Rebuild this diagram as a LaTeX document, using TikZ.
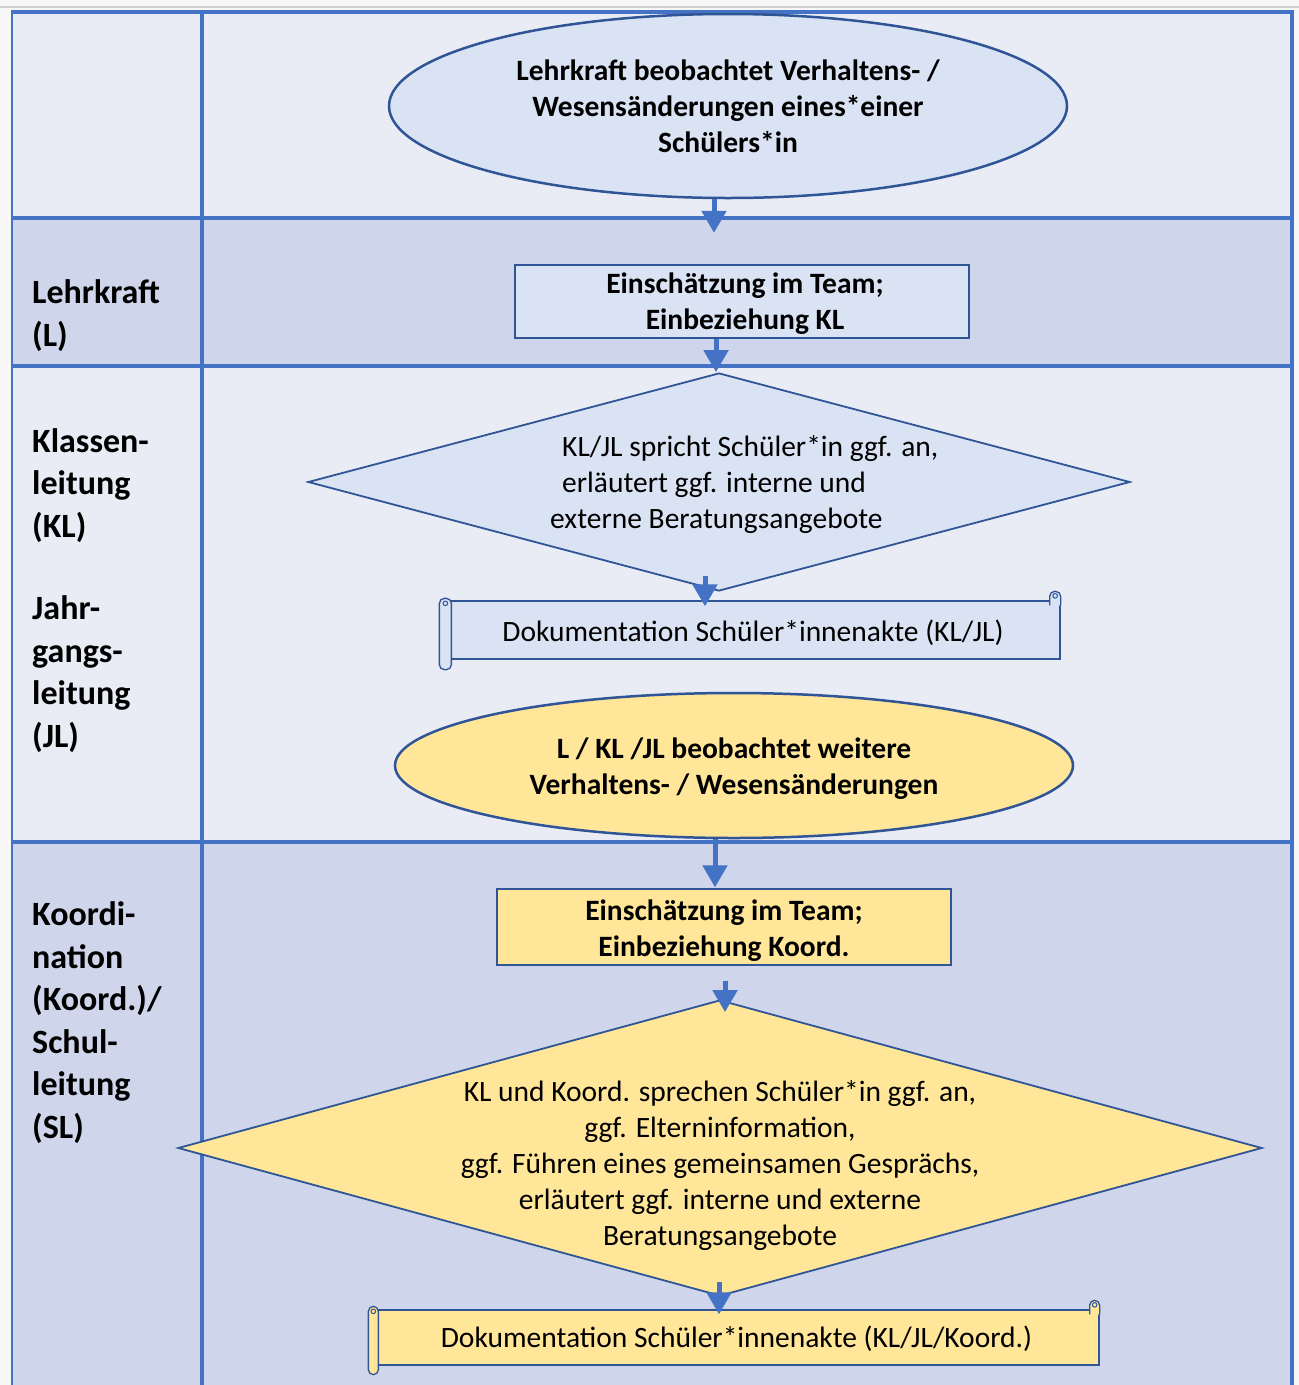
\documentclass[tikz,border=0pt]{standalone}
\usepackage{fontspec}
\setmainfont{Carlito}
\usetikzlibrary{shapes.geometric,arrows.meta,calc}

\definecolor{pagebg}{HTML}{F7F7F7}
\definecolor{rowlight}{HTML}{E9ECF5}
\definecolor{rowdark}{HTML}{CFD5EA}
\definecolor{gridblue}{HTML}{4472C4}
\definecolor{edgeblue}{HTML}{2F5597}
\definecolor{fillblue}{HTML}{DAE3F3}
\definecolor{fillyellow}{HTML}{FFE699}

\tikzset{
  gridline/.style={draw=gridblue, line width=3.5pt},
  maintext/.style={font=\fontsize{29.5}{36}\selectfont, inner sep=0},
  boldtext/.style={font=\fontsize{29.5}{36}\selectfont\bfseries, inner sep=0, align=center},
  lanetext/.style={font=\fontsize{34}{42.5}\selectfont\bfseries, align=left, inner sep=0, anchor=base west},
  oval/.style={ellipse, draw=edgeblue, line width=2.5pt, inner sep=0, align=center, boldtext},
  taskbox/.style={rectangle, draw=edgeblue, line width=1.3pt, inner sep=0},
  decision/.style={diamond, draw=edgeblue, line width=1.8pt, inner sep=0},
  docbody/.style={rectangle, draw=edgeblue, line width=1.3pt, inner sep=0},
  scrollpart/.style={draw=edgeblue, line width=1.3pt},
  flow/.style={draw=gridblue, line width=5pt, -{Triangle[width=24pt,length=22pt]}},
}

\begin{document}
\begin{tikzpicture}[x=1pt,y=-1pt]
\useasboundingbox (0,0) rectangle (1299,1385);
\fill[pagebg] (0,0) rectangle (1299,1385);
\draw[black!18, line width=1.5pt] (0,7) -- (1299,7);

% swimlane rows
\fill[rowlight] (12,12) rectangle (1292,218);
\fill[rowdark]  (12,218) rectangle (1292,366);
\fill[rowlight] (12,366) rectangle (1292,842);
\fill[rowdark]  (12,842) rectangle (1292,1385);

% table grid
\draw[draw=gridblue, line width=2pt] (12,1385) -- (12,12);
\draw[gridline] (11,12) -- (1292,12) -- (1292,1385);
\draw[gridline] (202,12) -- (202,1385);
\foreach \yy in {218,366,842} \draw[gridline] (12,\yy) -- (1292,\yy);

% lane labels (anchored at the baseline of their last line)
\node[lanetext] (laneL) at (32,346) {Lehrkraft\\(L)};
\node[lanetext] (laneKL) at (32,747) {Klassen-\\leitung\\(KL)\\[40pt]Jahr-\\gangs-\\leitung\\(JL)};
\node[lanetext] (laneSL) at (32,1138) {Koordi-\\nation\\(Koord.)/\\Schul-\\leitung\\(SL)};

% first observation
\node[oval, fill=fillblue, minimum width=678, minimum height=184] (obs1) at (728,106)
  {Lehrkraft beobachtet Verhaltens- /\\Wesensänderungen eines*einer\\Schülers*in};

\node[taskbox, fill=fillblue, minimum width=454, minimum height=73] (team1) at (742,301.5) {};
\node[boldtext] (team1txt) at (745,304)
  {Einschätzung im Team;\\Einbeziehung KL};

\node[decision, fill=fillblue, minimum width=822, minimum height=218] (talk1) at (719,482) {};
\node[maintext, anchor=west, align=left] (talk1txt) at (562,484.5)
  {KL/JL spricht Schüler*in ggf. an,\\erläutert ggf. interne und\\\hspace*{-12pt}externe Beratungsangebote};

% documentation scroll (class / year lead)
\node[docbody, fill=fillblue, minimum width=614, minimum height=58] (doc1) at (753,630) {};
\filldraw[scrollpart, fill=fillblue, rounded corners=5pt]
  ($(doc1.north east)+(-11,5)$) -- ($(doc1.north east)+(-11,-9)$) -- ($(doc1.north east)+(0,-9)$) -- ($(doc1.north east)+(0,5)$);
\draw[scrollpart, line width=1pt] ($(doc1.north east)+(-5.5,-4.5)$) circle (2.3);
\filldraw[scrollpart, fill=fillblue, rounded corners=5pt]
  ($(doc1.north west)+(-6,-2)$) rectangle ($(doc1.south west)+(6,10)$);
\draw[scrollpart, line width=1pt] ($(doc1.north west)+(0,3)$) circle (2.3);
\node[maintext] (doc1txt) at (753,632.5) {Dokumentation Schüler*innenakte (KL/JL)};

% second observation
\node[oval, fill=fillyellow, minimum width=678, minimum height=145] (obs2) at (734,765.5) {};
\node[boldtext] (obs2txt) at (734,768.5)
  {L / KL /JL beobachtet weitere\\Verhaltens- / Wesensänderungen};

\node[taskbox, fill=fillyellow, minimum width=454, minimum height=76] (team2) at (724,927) {};
\node[boldtext] (team2txt) at (724,930.5)
  {Einschätzung im Team;\\Einbeziehung Koord.};

\node[decision, fill=fillyellow, minimum width=1084, minimum height=296] (talk2) at (720,1148) {};
\node[maintext, align=center] (talk2txt) at (720,1166)
  {KL und Koord. sprechen Schüler*in ggf. an,\\ggf. Elterninformation,\\ggf. Führen eines gemeinsamen Gesprächs,\\erläutert ggf. interne und externe\\Beratungsangebote};

% documentation scroll (coordination)
\node[docbody, fill=fillyellow, minimum width=725, minimum height=55] (doc2) at (736.5,1337.5) {};
\filldraw[scrollpart, fill=fillyellow, rounded corners=5pt]
  ($(doc2.north east)+(-10,5)$) -- ($(doc2.north east)+(-10,-9)$) -- ($(doc2.north east)+(0,-9)$) -- ($(doc2.north east)+(0,5)$);
\draw[scrollpart, line width=1pt] ($(doc2.north east)+(-5,-4.5)$) circle (2.3);
\filldraw[scrollpart, fill=fillyellow, rounded corners=5pt]
  ($(doc2.north west)+(-5,-3)$) rectangle ($(doc2.south west)+(5,9)$);
\draw[scrollpart, line width=1pt] ($(doc2.north west)+(0,2)$) circle (2.3);
\node[maintext] (doc2txt) at (736.5,1338.5) {Dokumentation Schüler*innenakte (KL/JL/Koord.)};

% flow arrows
\draw[flow] ([xshift=-14pt]obs1.south) -- ([xshift=-28pt,yshift=31.5pt]team1.north);
\draw[flow] ([xshift=-26pt]team1.south) -- ([xshift=-3pt]talk1.north);
\draw[flow] ([xshift=-14pt,yshift=16pt]talk1.south) -- ([xshift=-48pt,yshift=-6pt]doc1.north);
\draw[flow] ([xshift=-19pt]obs2.south) -- ([xshift=-9pt,yshift=1pt]team2.north);
\draw[flow] ([xshift=1pt,yshift=-15pt]team2.south) -- ([xshift=5pt,yshift=-13pt]talk2.north);
\draw[flow] ([xshift=-1pt,yshift=15pt]talk2.south) -- ([xshift=-17.5pt,yshift=-5pt]doc2.north);
\end{tikzpicture}
\end{document}
